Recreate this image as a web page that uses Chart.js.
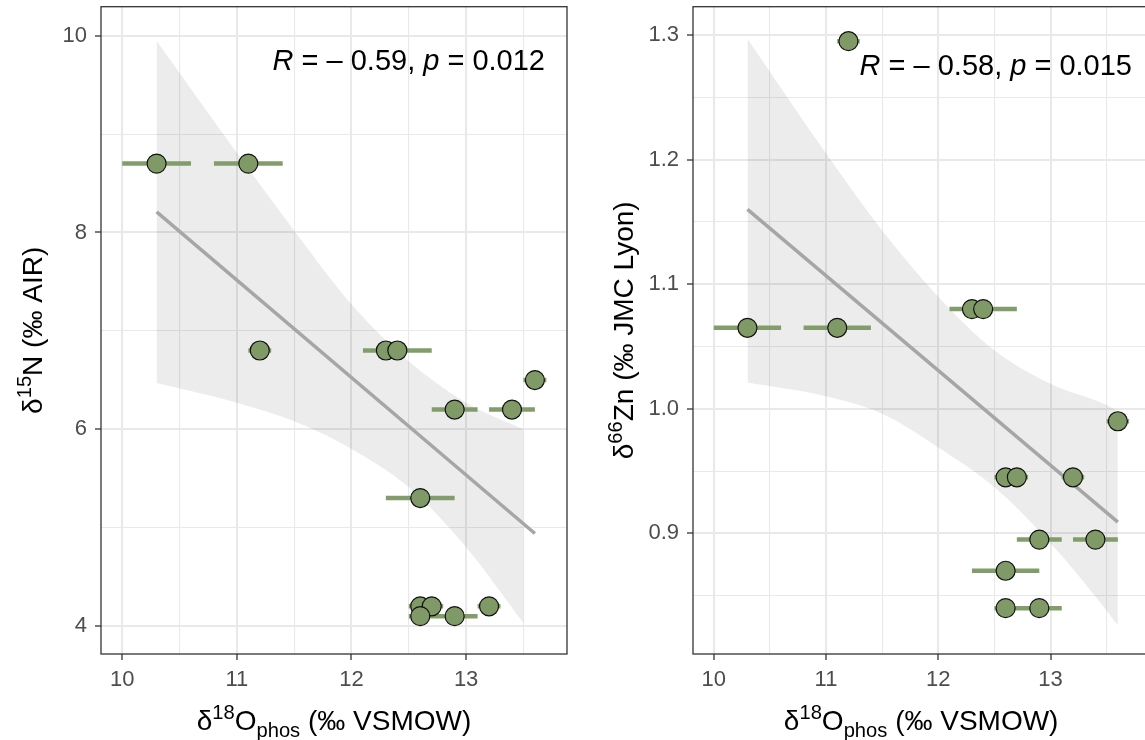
<!DOCTYPE html>
<html>
<head>
<meta charset="utf-8">
<script src="https://cdn.jsdelivr.net/npm/chart.js@4.4.0/dist/chart.umd.min.js"></script>
<style>
  html, body { margin: 0; padding: 0; background: #fff; overflow: hidden; }
  #wrap { position: relative; width: 1145px; height: 740px; overflow: hidden; background: #fff; }
  canvas { position: absolute; top: -4px; }
  #chartN { left: 0; }
  #chartZn { left: 590px; }
</style>
</head>
<body>
<div id="wrap">
  <canvas id="chartN" width="580" height="744"></canvas>
  <canvas id="chartZn" width="570" height="744"></canvas>
</div>
<script>
// muestras: d18O del fosfato y su rango (barra horizontal)
const d18O     = [10.3, 11.1, 11.2, 12.3, 12.4, 13.6, 12.9, 13.4, 12.6, 12.6, 12.7, 13.2, 12.6, 12.9];
const d18O_min = [10.0, 10.8, 11.1, 12.1, 12.1, 13.5, 12.7, 13.2, 12.3, 12.5, 12.6, 13.1, 12.5, 12.7];
const d18O_max = [10.6, 11.4, 11.3, 12.5, 12.7, 13.7, 13.1, 13.6, 12.9, 12.7, 12.8, 13.3, 12.7, 13.1];
const d15N     = [8.7, 8.7, 6.8, 6.8, 6.8, 6.5, 6.2, 6.2, 5.3, 4.2, 4.2, 4.2, 4.1, 4.1];
const d66Zn    = [1.065, 1.065, 1.295, 1.08, 1.08, 0.99, 0.895, 0.895, 0.87, 0.945, 0.945, 0.945, 0.84, 0.84];

// recta de regresion y banda de confianza
const fitX     = [10.3, 13.6];
const fitN     = [8.21, 4.94];
const fitZn    = [1.16, 0.909];
const bandX_N  = [10.3, 11.0, 11.5, 12.0, 12.5, 13.0, 13.5];
const bandN_hi = [9.95, 8.81, 8.02, 7.27, 6.69, 6.27, 6.00];
const bandN_lo = [6.47, 6.27, 6.08, 5.80, 5.41, 4.80, 4.03];
const bandX_Zn  = [10.3, 11.0, 11.5, 12.0, 12.5, 13.0, 13.5, 13.6];
const bandZn_hi = [1.297, 1.205, 1.143, 1.090, 1.047, 1.020, 1.003, 0.998];
const bandZn_lo = [1.021, 1.010, 0.996, 0.969, 0.937, 0.892, 0.838, 0.826];

// ticks
const xMajor   = [10, 11, 12, 13];
const xMinor   = [10.5, 11.5, 12.5, 13.5];
const yMajorN  = [4, 6, 8, 10];
const yMinorN  = [5, 7, 9];
const yMajorZn = [0.9, 1.0, 1.1, 1.2, 1.3];
const yMinorZn = [0.85, 0.95, 1.05, 1.15, 1.25];

const GREEN = '#7f9a66';
const FONT = '"Liberation Sans", Arial, sans-serif';

function pairs(xs, ys) {
  return xs.map((x, i) => ({x: x, y: ys[i]}));
}

function errorBars(yv) {
  let out = [];
  for (let i = 0; i < d18O.length; i++) {
    out.push({x: d18O_min[i], y: yv[i]});
    out.push({x: d18O_max[i], y: yv[i]});
    out.push({x: d18O_max[i], y: null});
  }
  return out;
}

function isIn(arr, v) {
  return arr.some(a => Math.abs(a - v) < 1e-6);
}

// texto con super/subindices
function segFont(s, size) {
  const sz = (s.sup || s.sub) ? size * 0.72 : size;
  return (s.it ? 'italic ' : '') + sz + 'px ' + FONT;
}
function drawRich(ctx, segs, x, y, size, align) {
  let w = 0;
  segs.forEach(s => { ctx.font = segFont(s, size); s.w = ctx.measureText(s.t).width; w += s.w; });
  let cx = align == 'center' ? x - w / 2 : (align == 'right' ? x - w : x);
  ctx.textAlign = 'left';
  ctx.textBaseline = 'alphabetic';
  segs.forEach(s => {
    ctx.font = segFont(s, size);
    const dy = s.sup ? -size * 0.4 : (s.sub ? size * 0.25 : 0);
    ctx.fillText(s.t, cx, y + dy);
    cx += s.w;
  });
}

const panelDeco = {
  id: 'panelDeco',
  afterDraw(chart, args, opts) {
    const ctx = chart.ctx;
    const a = chart.chartArea;
    ctx.save();
    ctx.strokeStyle = '#333333';
    ctx.lineWidth = 1.3;
    ctx.strokeRect(a.left, a.top, a.right - a.left, a.bottom - a.top);
    ctx.fillStyle = '#000';
    drawRich(ctx, opts.xTitle, (a.left + a.right) / 2, opts.xTitleY, 28, 'center');
    ctx.save();
    ctx.translate(opts.yTitleX, (a.top + a.bottom) / 2);
    ctx.rotate(-Math.PI / 2);
    drawRich(ctx, opts.yTitle, 0, 0, 28, 'center');
    ctx.restore();
    drawRich(ctx, opts.label, opts.labelX, opts.labelY, 29, 'right');
    ctx.restore();
  }
};

function axisX() {
  const all = xMajor.concat(xMinor).sort((a, b) => a - b);
  return {
    type: 'linear', min: 9.815, max: 13.88,
    afterBuildTicks: s => { s.ticks = all.map(v => ({value: v})); },
    afterFit: s => { s.height = 86; s.paddingLeft = 0; s.paddingRight = 0; },
    border: {display: false},
    grid: {
      color: '#e9e9e9',
      lineWidth: c => isIn(xMajor, c.tick.value) ? 2 : 1.1,
      tickLength: 6,
      tickWidth: 1.3,
      tickColor: c => isIn(xMajor, c.tick.value) ? '#333333' : 'rgba(0,0,0,0)'
    },
    ticks: {
      color: '#4d4d4d', font: {family: FONT, size: 22}, padding: 7,
      autoSkip: false, maxRotation: 0,
      callback: v => isIn(xMajor, v) ? String(v) : ''
    }
  };
}

function axisY(min, max, major, minor, width, fmt) {
  const all = major.concat(minor).sort((a, b) => a - b);
  return {
    type: 'linear', min: min, max: max,
    afterBuildTicks: s => { s.ticks = all.map(v => ({value: v})); },
    afterFit: s => { s.width = width; s.paddingTop = 0; s.paddingBottom = 0; },
    border: {display: false},
    grid: {
      color: '#e9e9e9',
      lineWidth: c => isIn(major, c.tick.value) ? 2 : 1.1,
      tickLength: 6,
      tickWidth: 1.3,
      tickColor: c => isIn(major, c.tick.value) ? '#333333' : 'rgba(0,0,0,0)'
    },
    ticks: {
      color: '#4d4d4d', font: {family: FONT, size: 22}, padding: 8,
      autoSkip: false,
      callback: v => isIn(major, v) ? fmt(v) : ''
    }
  };
}

function makeDatasets(yv, fitY, bx, bhi, blo) {
  return [
    { // puntos
      data: pairs(d18O, yv), showLine: false, order: 0,
      pointRadius: 9.5, pointBackgroundColor: GREEN, pointBorderColor: '#111',
      pointBorderWidth: 1.2
    },
    { // barras de error horizontales
      data: errorBars(yv), order: 1, spanGaps: false,
      borderColor: '#829d6b', borderWidth: 4.5, borderCapStyle: 'butt', pointRadius: 0
    },
    { // recta
      data: pairs(fitX, fitY), order: 2,
      borderColor: '#a6a6a6', borderWidth: 3.5, pointRadius: 0
    },
    { // banda superior
      data: pairs(bx, bhi), order: 3, cubicInterpolationMode: 'monotone',
      borderWidth: 0, borderColor: 'rgba(0,0,0,0)', pointRadius: 0
    },
    { // banda inferior
      data: pairs(bx, blo), order: 3, cubicInterpolationMode: 'monotone',
      borderWidth: 0, borderColor: 'rgba(0,0,0,0)', pointRadius: 0,
      fill: 3, backgroundColor: 'rgba(0,0,0,0.075)'
    }
  ];
}

function makeChart(id, yv, fitY, bx, bhi, blo, yAxis, deco, padRight) {
  return new Chart(document.getElementById(id), {
    type: 'line',
    data: {datasets: makeDatasets(yv, fitY, bx, bhi, blo)},
    options: {
      responsive: false,
      animation: false,
      layout: {padding: {left: 0, top: 6, right: padRight, bottom: 0}},
      plugins: {
        legend: {display: false},
        tooltip: {enabled: false},
        panelDeco: deco
      },
      scales: {x: axisX(), y: yAxis}
    },
    plugins: [panelDeco]
  });
}

const xTitle = [{t: 'δ'}, {t: '18', sup: true}, {t: 'O'}, {t: 'phos', sub: true}, {t: ' (‰ VSMOW)'}];

// el lienzo esta desplazado 4px hacia arriba
makeChart('chartN', d15N, fitN, bandX_N, bandN_hi, bandN_lo,
  axisY(3.715, 10.295, yMajorN, yMinorN, 101, v => String(v)),
  {
    xTitle: xTitle, xTitleY: 734,
    yTitle: [{t: 'δ'}, {t: '15', sup: true}, {t: 'N (‰ AIR)'}], yTitleX: 42,
    label: [{t: 'R', it: true}, {t: ' = '}, {t: '– '}, {t: '0.59, '}, {t: 'p', it: true}, {t: ' = 0.012'}],
    labelX: 545, labelY: 74
  }, 13);

makeChart('chartZn', d66Zn, fitZn, bandX_Zn, bandZn_hi, bandZn_lo,
  axisY(0.8032, 1.3227, yMajorZn, yMinorZn, 103, v => v.toFixed(1)),
  {
    xTitle: xTitle, xTitleY: 734,
    yTitle: [{t: 'δ'}, {t: '66', sup: true}, {t: 'Zn (‰ JMC Lyon)'}], yTitleX: 43,
    label: [{t: 'R', it: true}, {t: ' = '}, {t: '– '}, {t: '0.58, '}, {t: 'p', it: true}, {t: ' = 0.015'}],
    labelX: 542, labelY: 79
  }, 8);
</script>
</body>
</html>
